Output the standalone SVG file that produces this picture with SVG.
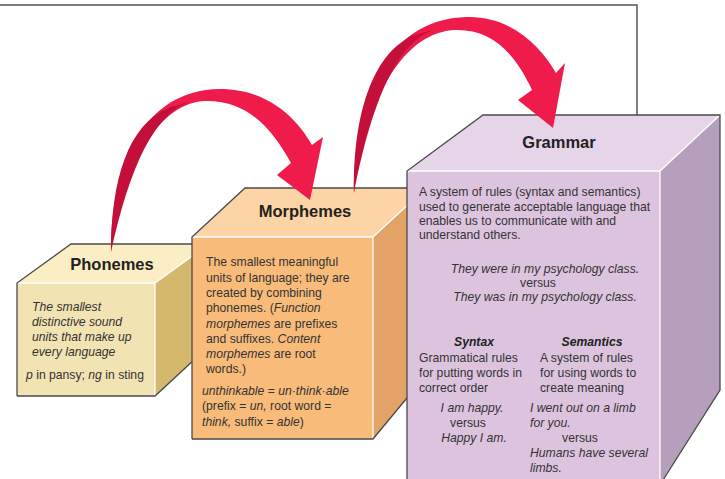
<svg xmlns="http://www.w3.org/2000/svg" width="725" height="479" viewBox="0 0 725 479">
<style>
.t{font-family:"Liberation Sans",Arial,sans-serif;fill:#333;font-size:12.2px}
.i{font-style:italic}
.h{font-family:"Liberation Sans",Arial,sans-serif;font-weight:bold;fill:#222;font-size:16.5px;text-anchor:middle}
.c{text-anchor:middle}
.bi{font-weight:bold;font-style:italic;fill:#222}
.sil{fill:none;stroke:#4a4a4a;stroke-width:1.3;stroke-linejoin:miter}
.hl{fill:none;stroke:#fff;stroke-width:1.3}
.ar{fill:#ee1b4b}
.ard{fill:#c40f3b}
</style>
<rect width="725" height="479" fill="#fff"/>
<path d="M0,5 H637 V115" fill="none" stroke="#555" stroke-width="1.5"/>

<g id="node-phonemes">
<polygon points="155,283 209,244 209,346 155,396" fill="#d4b96d"/>
<polygon points="17,283 71,244 209,244 155,283" fill="#fbeec4"/>
<rect x="17" y="283" width="138" height="113" fill="#f2e3b2"/>
<path class="hl" d="M17,283 H155 V396 M155,283 L209,244"/>
<path class="sil" d="M17,396 V283 L71,244 H209 M17,396 H155 L209,346"/>
<text class="h" x="112" y="270">Phonemes</text>
<text class="t i" x="32" y="311">The smallest</text>
<text class="t i" x="32" y="326">distinctive sound</text>
<text class="t i" x="32" y="341">units that make up</text>
<text class="t i" x="32" y="356">every language</text>
<text class="t" x="26" y="379"><tspan class="i">p</tspan> in pansy; <tspan class="i">ng</tspan> in sting</text>
</g>

<g id="node-morphemes">
<polygon points="373,237 426,188 426,375 373,439" fill="#e3a266"/>
<polygon points="192,237 245,188 426,188 373,237" fill="#fcd4a5"/>
<rect x="192" y="237" width="181" height="202" fill="#f9bb79"/>
<path class="hl" d="M192,237 H373 V439 M373,237 L426,188"/>
<path class="sil" d="M192,439 V237 L245,188 H426 M192,439 H373 L426,375"/>
<text class="h" x="305" y="217">Morphemes</text>
<text class="t" x="206" y="266">The smallest meaningful</text>
<text class="t" x="206" y="282">units of language; they are</text>
<text class="t" x="206" y="297">created by combining</text>
<text class="t" x="206" y="312">phonemes. (<tspan class="i">Function</tspan></text>
<text class="t" x="206" y="328"><tspan class="i">morphemes</tspan> are prefixes</text>
<text class="t" x="206" y="343">and suffixes. <tspan class="i">Content</tspan></text>
<text class="t" x="206" y="358"><tspan class="i">morphemes</tspan> are root</text>
<text class="t" x="206" y="373">words.)</text>
<text class="t" x="202" y="395"><tspan class="i">unthinkable</tspan> = <tspan class="i">un·think·able</tspan></text>
<text class="t" x="202" y="410">(prefix = <tspan class="i">un,</tspan> root word =</text>
<text class="t" x="202" y="426"><tspan class="i">think,</tspan> suffix = <tspan class="i">able</tspan>)</text>
</g>

<g id="node-grammar">
<polygon points="660,171 720,115 720,390 663,479 660,479" fill="#b69fbd"/>
<polygon points="407,171 483,115 720,115 660,171" fill="#e6d4e8"/>
<rect x="407" y="171" width="253" height="310" fill="#dcc4de"/>
<path class="hl" d="M407,171 H660 V479 M660,171 L720,115"/>
<path class="sil" d="M407,480 V171 L483,115 H720 V390 L663,480"/>
<text class="h" x="559" y="148">Grammar</text>
<text class="t" x="419" y="196">A system of rules (syntax and semantics)</text>
<text class="t" x="419" y="210.5">used to generate acceptable language that</text>
<text class="t" x="419" y="224.5">enables us to communicate with and</text>
<text class="t" x="419" y="238.5">understand others.</text>
<text class="t i c" x="545" y="273">They were in my psychology class.</text>
<text class="t c" x="538" y="287">versus</text>
<text class="t i c" x="545" y="301">They was in my psychology class.</text>
<text class="t bi c" x="474" y="346">Syntax</text>
<text class="t bi c" x="592" y="346">Semantics</text>
<text class="t" x="419" y="362">Grammatical rules</text>
<text class="t" x="419" y="377">for putting words in</text>
<text class="t" x="419" y="392">correct order</text>
<text class="t" x="540" y="362">A system of rules</text>
<text class="t" x="540" y="377">for using words to</text>
<text class="t" x="540" y="392">create meaning</text>
<text class="t i c" x="472" y="412">I am happy.</text>
<text class="t c" x="468" y="427">versus</text>
<text class="t i c" x="474" y="442">Happy I am.</text>
<text class="t i" x="530" y="412">I went out on a limb</text>
<text class="t i" x="530" y="427">for you.</text>
<text class="t c" x="580" y="442">versus</text>
<text class="t i" x="530" y="457">Humans have several</text>
<text class="t i" x="530" y="472">limbs.</text>
</g>

<g id="connectors">
<path class="ar" d="M111,252 C111,170 140,90 220,89 C265,89 295,115 312,145 L323,137 L310,200 L277,175 L291,163 C270,125 245,100 205,101 C160,103 125,160 111,252 Z"/>
<path class="ard" d="M111,252 C111,180 128,125 168,108 L192,101 C155,112 130,165 111,252 Z"/>
<path class="ar" d="M354,193 C354,105 383,19 467,17 C510,16 540,45 556,73 L565,63 L553,128 L518,100 L532,90 C513,50 490,29 455,30 C405,32 366,95 354,193 Z"/>
<path class="ard" d="M354,193 C353,115 372,55 412,36 L436,29 C398,40 372,100 354,193 Z"/>
</g>
</svg>
